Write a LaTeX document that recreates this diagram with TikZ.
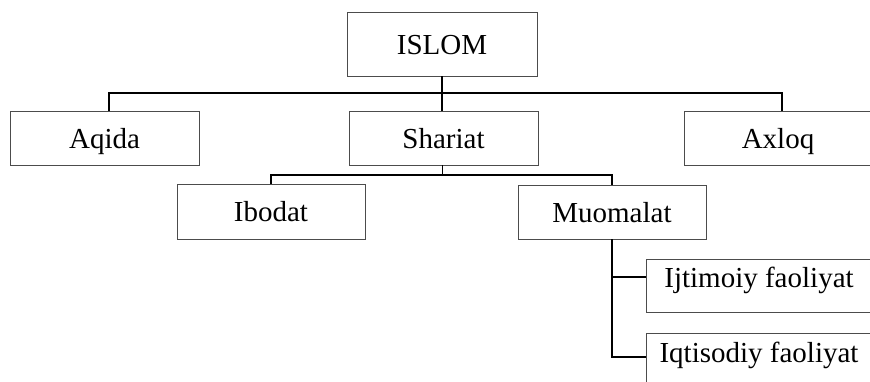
\documentclass[tikz,border=0pt]{standalone}
\usepackage{fontspec}
\setmainfont{Liberation Serif}
\usepackage{tikz}
\usetikzlibrary{positioning}

\tikzset{
	box/.style={draw=black!70,line width=0.7pt,fill=white,inner sep=0pt,
		font=\fontsize{29}{32}\selectfont,text height=20pt,text depth=0pt,
		minimum width=189pt,minimum height=54pt},
	leafbox/.style={box,text depth=16pt,minimum width=226pt,minimum height=53pt},
	link/.style={draw=black,line width=1.2pt}
}

\begin{document}
\begin{tikzpicture}[x=1pt,y=-1pt]
		\clip (0,0) rectangle (870,381);
		\fill[white] (0,0) rectangle (870,381);
		\node (islom) at (442,44) [box,minimum width=190pt,minimum height=64pt] {ISLOM};
		\node (aqida) at (104.5,138) [box] {Aqida};
		\node (shariat) at (443.5,138) [box] {Shariat};
		\node (axloq) at (778,138) [box,minimum width=188pt] {Axloq};
		\node (ibodat) at (271,211.5) [box,minimum width=188pt,minimum height=55pt] {Ibodat};
		\node (muomalat) at (612,212) [box,minimum width=188pt] {Muomalat};
		\node (ijtimoiy) at (759,285.5) [leafbox] {Ijtimoiy faoliyat};
		\node (iqtisodiy) at (759,360) [leafbox] {Iqtisodiy faoliyat};
		\coordinate (bus1) at (442,93);
		\coordinate (bus2) at (442,175);
		\coordinate (ijt) at ([yshift=8.5pt]ijtimoiy.west);
		\coordinate (iqt) at ([yshift=3pt]iqtisodiy.west);
		\draw [link] (islom.south) -- (bus1 |- shariat.north);
		\draw [link] ([xshift=4.5pt]aqida.north) |- (bus1) -| ([xshift=4pt]axloq.north);
		\draw [link,line width=0.8pt] (shariat.south -| bus2) -- (bus2);
		\draw [link] (ibodat.north) |- (bus2) -| (muomalat.north);
		\draw [link] (muomalat.south) |- (iqt);
		\draw [link] (muomalat.south |- ijt) -- (ijt);
    \end{tikzpicture}
\end{document}
